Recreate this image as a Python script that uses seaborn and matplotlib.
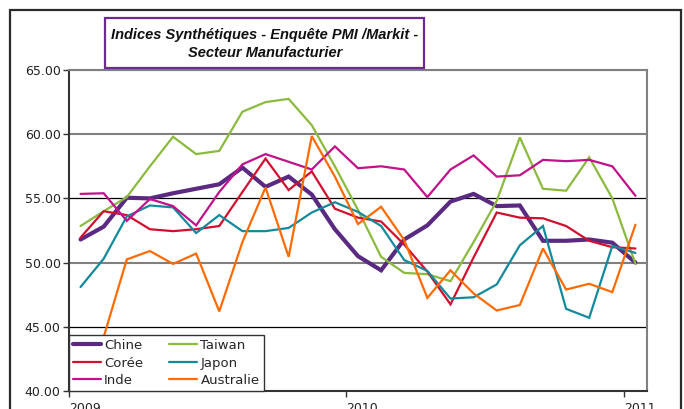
import matplotlib
matplotlib.use("Agg")
import matplotlib.pyplot as plt
import matplotlib.transforms as mtransforms
from matplotlib.patches import Rectangle
from matplotlib.lines import Line2D
import seaborn as sns
import pandas as pd
import numpy as np

# ---- data (monthly, Jan 2009 .. Jan 2011) ----
months = list(range(25))
chine = [51.8, 52.8, 55.05, 55.0, 55.4, 55.75, 56.1, 57.4, 55.9, 56.7, 55.3, 52.6,
         50.5, 49.4, 51.8, 52.9, 54.75, 55.35, 54.4, 54.45, 51.7, 51.7, 51.8, 51.55, 50.0]
taiwan = [52.85, 54.0, 55.1, 57.5, 59.8, 58.45, 58.7, 61.75, 62.5, 62.75, 60.7, 57.5,
          54.1, 50.45, 49.2, 49.1, 48.55, 51.6, 54.8, 59.75, 55.75, 55.6, 58.2, 55.0, 49.9]
coree = [51.95, 54.0, 53.7, 52.6, 52.45, 52.6, 52.85, 55.5, 58.1, 55.65, 57.1, 54.2,
         53.5, 53.2, 51.4, 49.3, 46.75, 50.4, 53.9, 53.5, 53.45, 52.85, 51.7, 51.2, 51.1]
japon = [48.1, 50.3, 53.6, 54.45, 54.3, 52.3, 53.7, 52.45, 52.45, 52.7, 53.9, 54.7,
         53.95, 52.85, 50.2, 49.35, 47.2, 47.3, 48.3, 51.35, 52.85, 46.4, 45.7, 51.3, 50.75]
inde = [55.35, 55.4, 53.25, 54.95, 54.4, 52.9, 55.5, 57.65, 58.45, 57.85, 57.25, 59.05,
        57.35, 57.5, 57.25, 55.1, 57.25, 58.35, 56.7, 56.8, 58.0, 57.9, 58.0, 57.5, 55.2]
australie = [41.0, 44.2, 50.25, 50.9, 49.9, 50.7, 46.2, 51.6, 55.85, 50.45, 59.85, 56.7,
             53.0, 54.35, 51.75, 47.25, 49.4, 47.6, 46.27, 46.7, 51.1, 47.9, 48.35, 47.7, 52.95]

series_names = ["Chine", "Taiwan", "Corée", "Japon", "Inde", "Australie"]
series_values = [chine, taiwan, coree, japon, inde, australie]
year_labels = ["2009", "2010", "2011"]
year_ticks = [0, 12, 24]
y_ticks = [40, 45, 50, 55, 60, 65]
title_lines = ["Indices Synthétiques - Enquête PMI /Markit -", "Secteur Manufacturier"]

colors = {"Chine": "#5A2A82", "Taiwan": "#8BBA3F", "Corée": "#D0102E",
          "Japon": "#138A9C", "Inde": "#C0128A", "Australie": "#FF6B00"}
widths = {"Chine": 3.0, "Taiwan": 1.6, "Corée": 1.6, "Japon": 1.6, "Inde": 1.6, "Australie": 1.6}

rows = []
for name, vals in zip(series_names, series_values):
    for m, v in zip(months, vals):
        rows.append({"x": m + 0.5, "value": v, "pays": name})
df = pd.DataFrame(rows)

sns.set_theme(style="white")
plt.rcParams["font.family"] = ["DejaVu Sans"]

W, H = 684, 409
fig = plt.figure(figsize=(W / 100, H / 100), dpi=100)
fig.patch.set_facecolor("white")
ax = fig.add_axes([69 / W, 1 - 391 / H, (647 - 69) / W, (391 - 70) / H])

# gridlines (alternating tones as in the reference)
for yv in [45, 50, 55, 60, 65]:
    if yv in (50, 60, 65):
        ax.axhline(yv, color="#808080", lw=1.5, zorder=1)
    else:
        ax.axhline(yv, color="#000000", lw=0.9, zorder=1)

for name in series_names:
    sns.lineplot(data=df[df["pays"] == name], x="x", y="value", ax=ax,
                 color=colors[name], lw=widths[name], label=name,
                 legend=False, zorder=3, solid_joinstyle="miter")

ax.set_xlim(0, 25)
ax.set_ylim(40, 65)
ax.set_yticks(y_ticks)
ax.set_yticklabels([f"{v:.2f}" for v in y_ticks], fontsize=9, color="#222222")
ax.set_xticks(year_ticks)
ax.set_xticklabels(year_labels, fontsize=9, color="#222222", ha="left")
offset = mtransforms.ScaledTranslation(-2 / 100, 0, fig.dpi_scale_trans)
for lab in ax.get_xticklabels():
    lab.set_transform(lab.get_transform() + offset)
ax.tick_params(axis="y", direction="out", length=4, width=1, color="#333333", pad=2, left=True)
ax.tick_params(axis="x", direction="out", length=4, width=1, color="#333333", pad=4, bottom=True)
ax.set_xlabel("")
ax.set_ylabel("")

for side in ["left", "bottom"]:
    ax.spines[side].set_color("#333333")
    ax.spines[side].set_linewidth(1.5)
ax.spines["right"].set_color("#808080")
ax.spines["right"].set_linewidth(1.5)
ax.spines["top"].set_color("#808080")
ax.spines["top"].set_linewidth(1.5)

# legend: column-wise order
order = ["Chine", "Corée", "Inde", "Taiwan", "Japon", "Australie"]
handles = [Line2D([0], [0], color=colors[n], lw=widths[n]) for n in order]
leg = ax.legend(handles, order, loc="lower left", bbox_to_anchor=(0, 0), ncol=2,
                fontsize=9.5, frameon=True, fancybox=False, framealpha=1,
                edgecolor="#333333", borderaxespad=0, handlelength=2.1,
                handletextpad=0.25, columnspacing=2.0, labelspacing=0.34,
                borderpad=0.3)
leg.get_frame().set_linewidth(1.0)
leg.set_zorder(5)

# outer figure border
fig.patches.append(Rectangle((9.5 / W, -0.05), (680.5 - 9.5) / W, 1.05 - 9.5 / H,
                             transform=fig.transFigure, fill=False,
                             edgecolor="#2b2b2b", lw=1.6, figure=fig))
# title box
fig.patches.append(Rectangle((105 / W, 1 - 68 / H), (424 - 105) / W, 50 / H,
                             transform=fig.transFigure, facecolor="white",
                             edgecolor="#6B2C91", lw=1.6, figure=fig))
fig.text(265 / W, 1 - 39 / H, title_lines[0], ha="center", va="baseline",
         fontsize=10.5, fontweight="bold", fontstyle="italic",
         family=["Liberation Sans", "DejaVu Sans"], color="#111111")
fig.text(265 / W, 1 - 57 / H, title_lines[1], ha="center", va="baseline",
         fontsize=10.5, fontweight="bold", fontstyle="italic",
         family=["Liberation Sans", "DejaVu Sans"], color="#111111")

fig.savefig("out.png", dpi=100)
